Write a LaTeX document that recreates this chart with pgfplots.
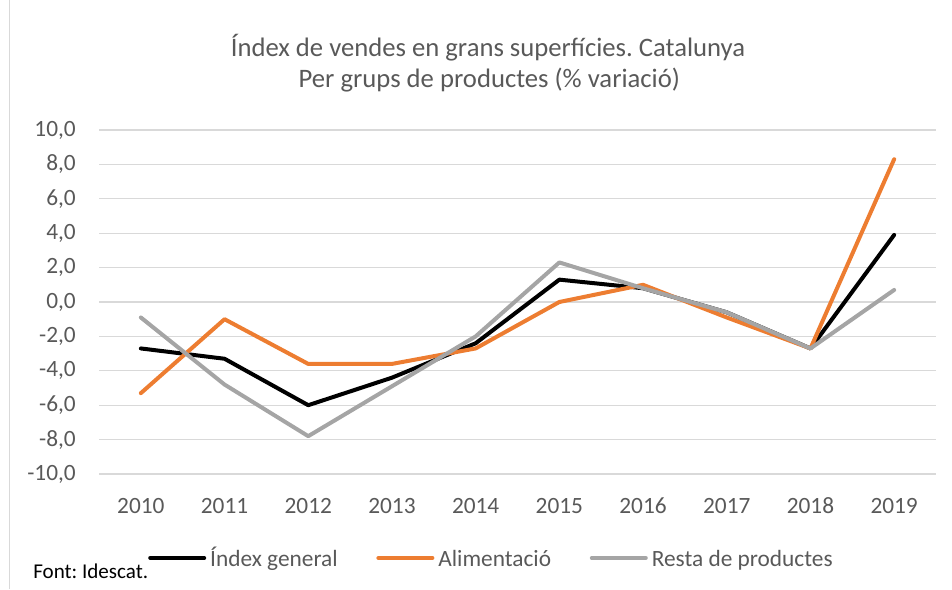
\documentclass[border=0pt]{standalone}
\usepackage{pgfplots}
\pgfplotsset{compat=1.18}
\usepackage{fontspec}
\setmainfont{Carlito}
\frenchspacing
\definecolor{txt}{HTML}{595959}
\definecolor{grd}{HTML}{D9D9D9}
\definecolor{org}{HTML}{ED7D31}
\definecolor{gry}{HTML}{A5A5A5}
\begin{document}
\begin{tikzpicture}
\path[use as bounding box] (0pt,0pt) rectangle (714pt,441.75pt);
\draw[grd, line width=0.75pt] (6.75pt,0pt) -- (6.75pt,441.75pt);
\node[anchor=base, text=txt, font=\fontsize{20}{24}\selectfont, inner sep=0pt] at (366pt,399pt) {Índex de vendes en grans superfícies. Catalunya};
\node[anchor=base, text=txt, font=\fontsize{20}{24}\selectfont, inner sep=0pt] at (367pt,375.75pt) {Per grups de productes (\% variació)};
\node[anchor=base west, text=black, font=\fontsize{15.8}{19}\selectfont, inner sep=0pt] at (24.75pt,8.25pt) {Font: Idescat.};
\begin{axis}[
  at={(74.25pt,86.25pt)}, anchor=south west,
  scale only axis, width=627.75pt, height=258pt,
  xmin=-0.5, xmax=9.5, ymin=-10, ymax=10,
  xtick={0,...,9},
  xticklabels={2010,2011,2012,2013,2014,2015,2016,2017,2018,2019},
  ytick={-10,-8,...,10},
  ymajorgrids, grid style={grd, line width=1pt},
  axis line style={draw=none},
  major tick length=0pt,
  tick label style={font=\fontsize{17.5}{21}\selectfont, text=txt},
  /pgf/number format/assume math mode=true,
  yticklabel style={/pgf/number format/fixed, /pgf/number format/fixed zerofill, /pgf/number format/precision=1, /pgf/number format/use comma, /pgf/number format/1000 sep={}},
  yticklabel style={anchor=east, inner sep=0pt, xshift=-17.25pt},
  xticklabel style={anchor=base, inner sep=0pt, yshift=-29.25pt},
  legend columns=3,
  legend style={draw=none, fill=none, at={(0.0585,-0.244)}, anchor=west, inner sep=0pt,
    nodes={inner sep=0pt, text=txt, font=\fontsize{17.5}{21}\selectfont},
    /tikz/every odd column/.append style={column sep=3pt},
    /tikz/every even column/.append style={column sep=29pt}},
  legend cell align=left,
  legend image code/.code={\draw[#1, line cap=round] (0pt,0pt) -- (40.5pt,0pt);},
  every axis plot/.append style={line width=3pt, line cap=round, line join=round, mark=none},
]
\addplot[black] coordinates {(0,-2.7) (1,-3.3) (2,-6.0) (3,-4.4) (4,-2.4) (5,1.3) (6,0.8) (7,-0.6) (8,-2.7) (9,3.9)};
\addlegendentry{\strut Índex general}
\addplot[org] coordinates {(0,-5.3) (1,-1.0) (2,-3.6) (3,-3.6) (4,-2.7) (5,0.0) (6,1.0) (7,-0.9) (8,-2.7) (9,8.3)};
\addlegendentry{\strut Alimentació}
\addplot[gry] coordinates {(0,-0.9) (1,-4.8) (2,-7.8) (3,-4.9) (4,-2.0) (5,2.3) (6,0.8) (7,-0.6) (8,-2.7) (9,0.7)};
\addlegendentry{\strut Resta de productes}
\end{axis}
\end{tikzpicture}
\end{document}
